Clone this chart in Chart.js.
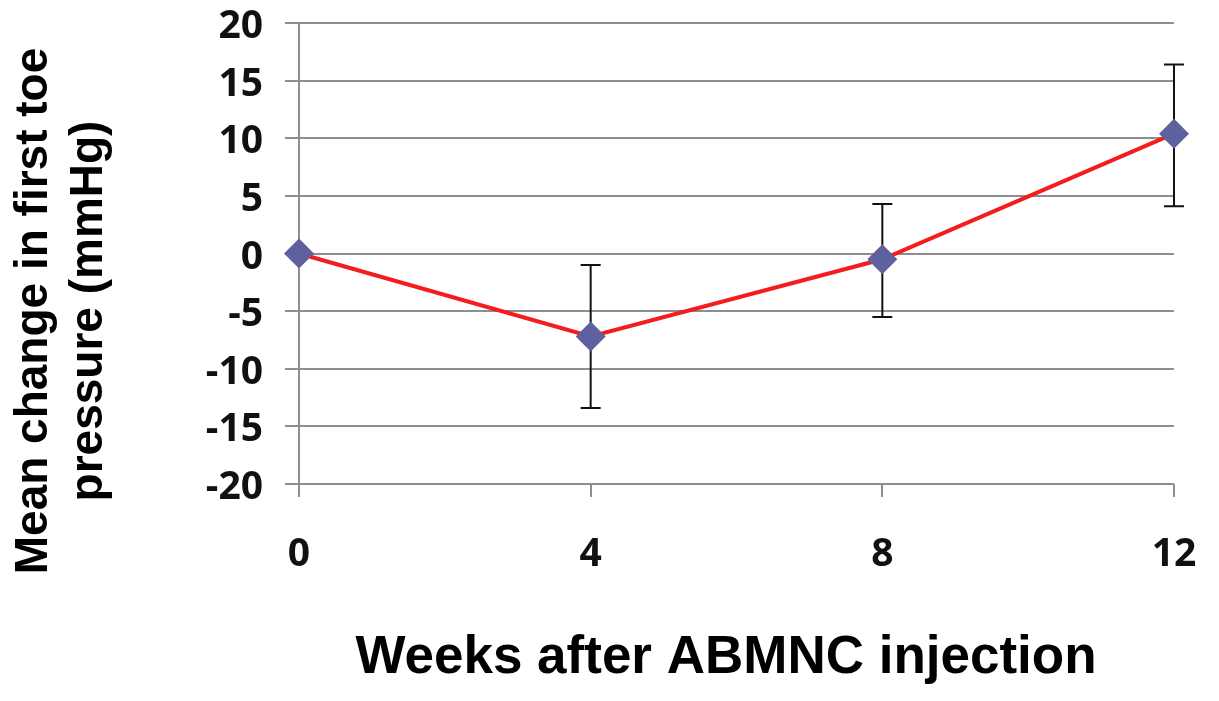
<!DOCTYPE html>
<html>
<head>
<meta charset="utf-8">
<script src="https://cdn.jsdelivr.net/npm/chart.js@4/dist/chart.umd.min.js"></script>
<style>
  html, body { margin: 0; padding: 0; background: #ffffff; }
  #wrap { width: 1219px; height: 701px; position: relative; }
</style>
</head>
<body>
<div id="wrap"><canvas id="c"></canvas></div>
<script>
// ---- data ----
const weeks = ['0', '4', '8', '12'];
const meanChange = [0, -7.2, -0.5, 10.4];
const errUp = [null, 6.2, 4.8, 6.0];
const errDown = [null, 6.2, 5.0, 6.3];
const yTickValues = [-20, -15, -10, -5, 0, 5, 10, 15, 20];
const yTickLabels = ['-20', '-15', '-10', '-5', '0', '5', '10', '15', '20'];
const yTitle = ['Mean change in first toe', 'pressure (mmHg)'];
const xTitle = 'Weeks after ABMNC injection';

const GRID = '#8e8e8e';

const errorBars = {
  id: 'errorBars',
  beforeDatasetsDraw(chart) {
    const {ctx, scales: {x, y}} = chart;
    ctx.save();
    ctx.strokeStyle = '#111111';
    ctx.lineWidth = 2;
    meanChange.forEach((v, i) => {
      if (errUp[i] == null) return;
      const px = x.getPixelForValue(i);
      const yt = y.getPixelForValue(v + errUp[i]);
      const yb = y.getPixelForValue(v - errDown[i]);
      ctx.beginPath();
      ctx.moveTo(px, yt); ctx.lineTo(px, yb);
      ctx.moveTo(px - 10, yt); ctx.lineTo(px + 10, yt);
      ctx.moveTo(px - 10, yb); ctx.lineTo(px + 10, yb);
      ctx.stroke();
    });
    ctx.restore();
  }
};

// Re-centre the axis titles the way the reference places them
const titleBoxes = {
  id: 'titleBoxes',
  afterLayout(chart) {
    const y = chart.scales.y;
    y.bottom = y.top + 2 * (311 - y.top);
    const x = chart.scales.x;
    x.left = 726 * 2 - x.right;
  }
};

new Chart(document.getElementById('c'), {
  type: 'line',
  data: {
    labels: weeks,
    datasets: [{
      data: meanChange,
      borderColor: '#f41c1c',
      borderWidth: 4,
      pointStyle: 'rectRot',
      pointRadius: 15,
      pointHoverRadius: 15,
      pointBackgroundColor: '#5f609e',
      pointBorderColor: '#5f609e',
      pointBorderWidth: 0,
      tension: 0,
      fill: false
    }]
  },
  options: {
    responsive: true,
    maintainAspectRatio: false,
    animation: false,
    layout: { padding: { top: 23, right: 45, left: 0, bottom: 0 } },
    plugins: { legend: { display: false }, tooltip: { enabled: false } },
    scales: {
      x: {
        type: 'category',
        offset: false,
        border: { display: false },
        grid: {
          drawOnChartArea: true,
          color: (c) => c.index === 0 ? GRID : 'rgba(0,0,0,0)',
          tickColor: GRID,
          lineWidth: 2,
          tickLength: 13
        },
        ticks: {
          color: '#111111',
          font: { family: 'Open Sans', weight: 'bold', size: 39, lineHeight: 1 },
          padding: 38,
          maxRotation: 0
        },
        title: {
          display: true,
          text: xTitle,
          color: '#000000',
          font: { family: 'Liberation Sans', weight: 'bold', size: 53, lineHeight: 1.2 },
          padding: { top: 0, bottom: 11 }
        },
        afterFit: (s) => { s.height = 217; s.paddingLeft = 0; s.paddingRight = 0; }
      },
      y: {
        min: -20,
        max: 20,
        border: { display: false },
        afterBuildTicks: (s) => { s.ticks = yTickValues.map(v => ({ value: v })); },
        grid: {
          color: GRID,
          lineWidth: 2,
          tickLength: 14
        },
        ticks: {
          color: '#111111',
          font: { family: 'Open Sans', weight: 'bold', size: 39, lineHeight: 1 },
          padding: 22,
          labelOffset: 4,
          callback: (v) => yTickLabels[yTickValues.indexOf(v)]
        },
        title: {
          display: true,
          text: yTitle,
          color: '#000000',
          font: { family: 'Liberation Sans', weight: 'bold', size: 46, lineHeight: 1.2 },
          padding: { top: 7, bottom: 0 }
        },
        afterFit: (s) => { s.width = 299; s.paddingTop = 0; s.paddingBottom = 0; }
      }
    }
  },
  plugins: [errorBars, titleBoxes]
});
</script>
</body>
</html>
